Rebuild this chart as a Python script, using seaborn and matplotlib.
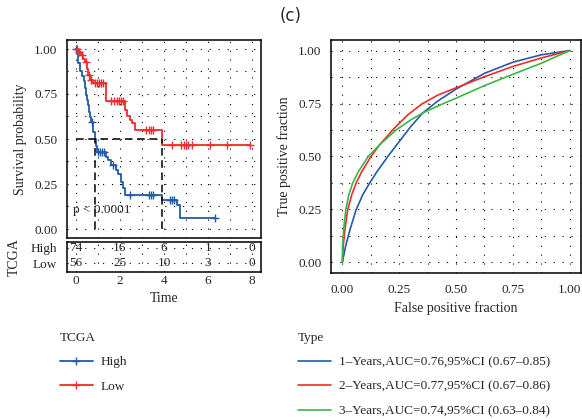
import numpy as np
import pandas as pd
import matplotlib
matplotlib.use("Agg")
import matplotlib.pyplot as plt
from matplotlib.lines import Line2D
from matplotlib.ticker import MultipleLocator, FormatStrFormatter
import seaborn as sns

# ---- Kaplan-Meier data (TCGA cohort, risk groups) ----
high_time = [0, 0.05, 0.08, 0.12, 0.18, 0.28, 0.35, 0.41, 0.45, 0.50, 0.55, 0.59,
             0.65, 0.71, 0.76, 0.80, 0.86, 0.90, 0.95, 1.36, 1.45, 1.58, 1.82,
             1.90, 2.03, 2.15, 2.23, 3.89, 4.58, 4.72]
high_surv = [1.0, 0.973, 0.946, 0.92, 0.878, 0.851, 0.824, 0.784, 0.743, 0.716,
             0.689, 0.649, 0.622, 0.595, 0.568, 0.541, 0.50, 0.459, 0.425, 0.398,
             0.384, 0.357, 0.330, 0.303, 0.262, 0.228, 0.19, 0.163, 0.135, 0.06]
high_end = 6.32
high_censor = [0.03, 0.72, 1.0, 1.1, 1.2, 1.3, 1.7, 2.45, 3.3, 3.4, 3.5, 4.27,
               4.35, 4.45, 6.32]

low_time = [0, 0.12, 0.22, 0.33, 0.42, 0.50, 0.56, 0.66, 0.78, 1.35, 2.23, 2.33,
            2.45, 2.55, 2.68, 3.89]
low_surv = [1.0, 0.982, 0.964, 0.946, 0.928, 0.89, 0.855, 0.83, 0.81, 0.709,
            0.663, 0.626, 0.607, 0.589, 0.552, 0.468]
low_end = 7.9
low_censor = [0.05, 0.15, 0.27, 0.45, 0.6, 0.7, 0.85, 0.95, 1.05, 1.15, 1.25,
              1.6, 1.75, 1.85, 1.95, 2.05, 2.15, 3.2, 3.3, 3.4, 3.5, 4.35, 4.75,
              4.9, 5.0, 5.1, 5.25, 6.1, 6.85, 7.9]

risk_times = [0, 2, 4, 6, 8]
risk_high = [74, 16, 6, 1, 0]
risk_low = [56, 25, 10, 3, 0]
group_labels = ["High", "Low"]
p_label = "p < 0.0001"

# ---- time-dependent ROC curves ----
roc1_fpr = [0, 0.015, 0.035, 0.06, 0.089, 0.119, 0.152, 0.2, 0.25, 0.3, 0.353,
            0.42, 0.5, 0.626, 0.75, 0.875, 1.0]
roc1_tpr = [0, 0.08, 0.16, 0.247, 0.318, 0.373, 0.428, 0.5, 0.57, 0.64, 0.705,
            0.762, 0.818, 0.893, 0.945, 0.98, 1.0]
roc2_fpr = [0, 0.004, 0.012, 0.023, 0.041, 0.06, 0.085, 0.126, 0.163, 0.221,
            0.287, 0.35, 0.42, 0.5, 0.626, 0.75, 0.875, 1.0]
roc2_tpr = [0, 0.08, 0.16, 0.247, 0.318, 0.373, 0.428, 0.5, 0.554, 0.625, 0.696,
            0.748, 0.79, 0.824, 0.877, 0.925, 0.965, 1.0]
roc3_fpr = [0, 0.001, 0.006, 0.015, 0.028, 0.045, 0.07, 0.114, 0.163, 0.236, 0.3,
            0.353, 0.434, 0.5, 0.626, 0.75, 0.875, 1.0]
roc3_tpr = [0, 0.08, 0.16, 0.247, 0.318, 0.373, 0.428, 0.5, 0.554, 0.625, 0.672,
            0.705, 0.745, 0.775, 0.835, 0.888, 0.94, 1.0]
roc_labels = ["1\u2013Years,AUC=0.76,95%CI (0.67\u20130.85)",
              "2\u2013Years,AUC=0.77,95%CI (0.67\u20130.86)",
              "3\u2013Years,AUC=0.74,95%CI (0.63\u20130.84)"]

BLUE = "#235BA6"
RED = "#EE2C2C"
GREEN = "#3DB54A"

sns.set_style("white")
plt.rcParams["font.family"] = ["Liberation Serif", "DejaVu Serif"]
plt.rcParams["axes.linewidth"] = 1.1
FS = 9.5
LEG_FS = 9.5
GRID = dict(color="black", linestyle=(0, (1, 7)), linewidth=0.8)

fig = plt.figure(figsize=(5.82, 4.19), dpi=100)
W, H = 582, 419


def box(l, t, r, b):
    return [l / W, 1 - b / H, (r - l) / W, (b - t) / H]


ax_km = fig.add_axes(box(67, 40, 261, 238))
ax_rt = fig.add_axes(box(67, 242, 261, 272))
ax_roc = fig.add_axes(box(331, 40, 581, 273))

fig.text(291 / W, 1 - 16 / H, "(c)", ha="center", va="center",
         fontsize=12, family="DejaVu Sans")


def style_axes(ax):
    for s in ax.spines.values():
        s.set_color("black")
        s.set_linewidth(1.1)
    ax.tick_params(which="major", direction="out", length=3, width=0.8,
                   color="black", labelsize=FS, pad=4)
    ax.tick_params(which="minor", length=0)
    ax.set_axisbelow(True)


# ---- Kaplan-Meier panel ----
groups = [(high_time, high_surv, high_end, high_censor, BLUE),
          (low_time, low_surv, low_end, low_censor, RED)]
for tt, ss, end, cens, col in groups:
    df = pd.DataFrame({"time": tt + [end], "surv": ss + [ss[-1]]})
    sns.lineplot(data=df, x="time", y="surv", drawstyle="steps-post",
                 estimator=None, sort=False, color=col, linewidth=1.3, ax=ax_km)
    idx = np.searchsorted(tt, cens, side="right") - 1
    cdf = pd.DataFrame({"time": cens, "surv": np.array(ss)[idx]})
    sns.scatterplot(data=cdf, x="time", y="surv", marker="+", s=30, color=col,
                    linewidth=1.0, ax=ax_km, zorder=3)

# median survival reference lines
medians = []
for tt, ss, *_ in groups:
    i = int(np.argmax(np.array(ss) <= 0.5))
    medians.append(tt[i])
ax_km.plot([0, max(medians)], [0.5, 0.5], color="black", lw=1.1,
           linestyle=(0, (5, 3)), zorder=2)
for m in medians:
    ax_km.plot([m, m], [0, 0.5], color="black", lw=1.1,
               linestyle=(0, (5, 3)), zorder=2)

ax_km.text(-0.15, 0.107, p_label, fontsize=FS, ha="left", va="center")
ax_km.set_xlim(-0.4, 8.4)
ax_km.set_ylim(-0.05, 1.05)
ax_km.set_yticks([0, 0.25, 0.5, 0.75, 1.0])
ax_km.yaxis.set_major_formatter(FormatStrFormatter("%.2f"))
ax_km.yaxis.set_minor_locator(MultipleLocator(0.125))
ax_km.set_xticks(risk_times)
ax_km.xaxis.set_minor_locator(MultipleLocator(1))
ax_km.set_xticklabels([])
ax_km.grid(which="both", **GRID)
ax_km.set_xlabel("")
ax_km.set_ylabel("Survival probability", fontsize=FS + 0.5, labelpad=5)
style_axes(ax_km)
ax_km.tick_params(axis="x", length=0)

# ---- number-at-risk table ----
for row, counts in zip([1, 0], [risk_high, risk_low]):
    for t, n in zip(risk_times, counts):
        ax_rt.text(t, row, str(n), ha="center", va="center", fontsize=FS)
ax_rt.set_xlim(-0.4, 8.4)
ax_rt.set_ylim(-0.55, 1.35)
ax_rt.set_yticks([1, 0])
ax_rt.set_yticklabels(group_labels)
ax_rt.set_xticks(risk_times)
ax_rt.xaxis.set_minor_locator(MultipleLocator(1))
ax_rt.grid(which="both", **GRID)
ax_rt.set_xlabel("Time", fontsize=FS + 0.5, labelpad=4)
ax_rt.set_ylabel("TCGA", fontsize=FS + 0.5, labelpad=7)
style_axes(ax_rt)
ax_rt.tick_params(axis="x", length=0, pad=2)

# ---- ROC panel ----
roc_sets = [(roc1_fpr, roc1_tpr, BLUE), (roc2_fpr, roc2_tpr, RED),
            (roc3_fpr, roc3_tpr, GREEN)]
for fpr, tpr, col in roc_sets:
    sns.lineplot(x=fpr, y=tpr, estimator=None, sort=False, color=col,
                 linewidth=1.2, ax=ax_roc)
ax_roc.set_xlim(-0.05, 1.05)
ax_roc.set_ylim(-0.05, 1.05)
ticks = [0, 0.25, 0.5, 0.75, 1.0]
ax_roc.set_xticks(ticks)
ax_roc.set_yticks(ticks)
ax_roc.xaxis.set_major_formatter(FormatStrFormatter("%.2f"))
ax_roc.yaxis.set_major_formatter(FormatStrFormatter("%.2f"))
ax_roc.xaxis.set_minor_locator(MultipleLocator(0.125))
ax_roc.yaxis.set_minor_locator(MultipleLocator(0.125))
ax_roc.grid(which="both", **GRID)
ax_roc.set_xlabel("False positive fraction", fontsize=FS + 0.5, labelpad=4)
ax_roc.set_ylabel("True positive fraction", fontsize=FS + 0.5, labelpad=5)
style_axes(ax_roc)
ax_roc.tick_params(axis="x", pad=5)

# ---- legends ----
km_handles = [Line2D([], [], color=c, lw=1.3, marker="+", markersize=6)
              for c in (BLUE, RED)]
leg_kw = dict(loc="upper left", frameon=False, fontsize=LEG_FS,
              title_fontsize=LEG_FS, handlelength=2.5, handletextpad=0.6,
              labelspacing=0.92, borderpad=0, borderaxespad=0,
              alignment="left")
fig.legend(km_handles, group_labels, title="TCGA",
           bbox_to_anchor=(60 / W, 1 - 332 / H), **leg_kw)
roc_handles = [Line2D([], [], color=c, lw=1.2) for _, _, c in roc_sets]
fig.legend(roc_handles, roc_labels, title="Type",
           bbox_to_anchor=(298 / W, 1 - 332 / H), **leg_kw)

fig.savefig("out.png", dpi=100)
